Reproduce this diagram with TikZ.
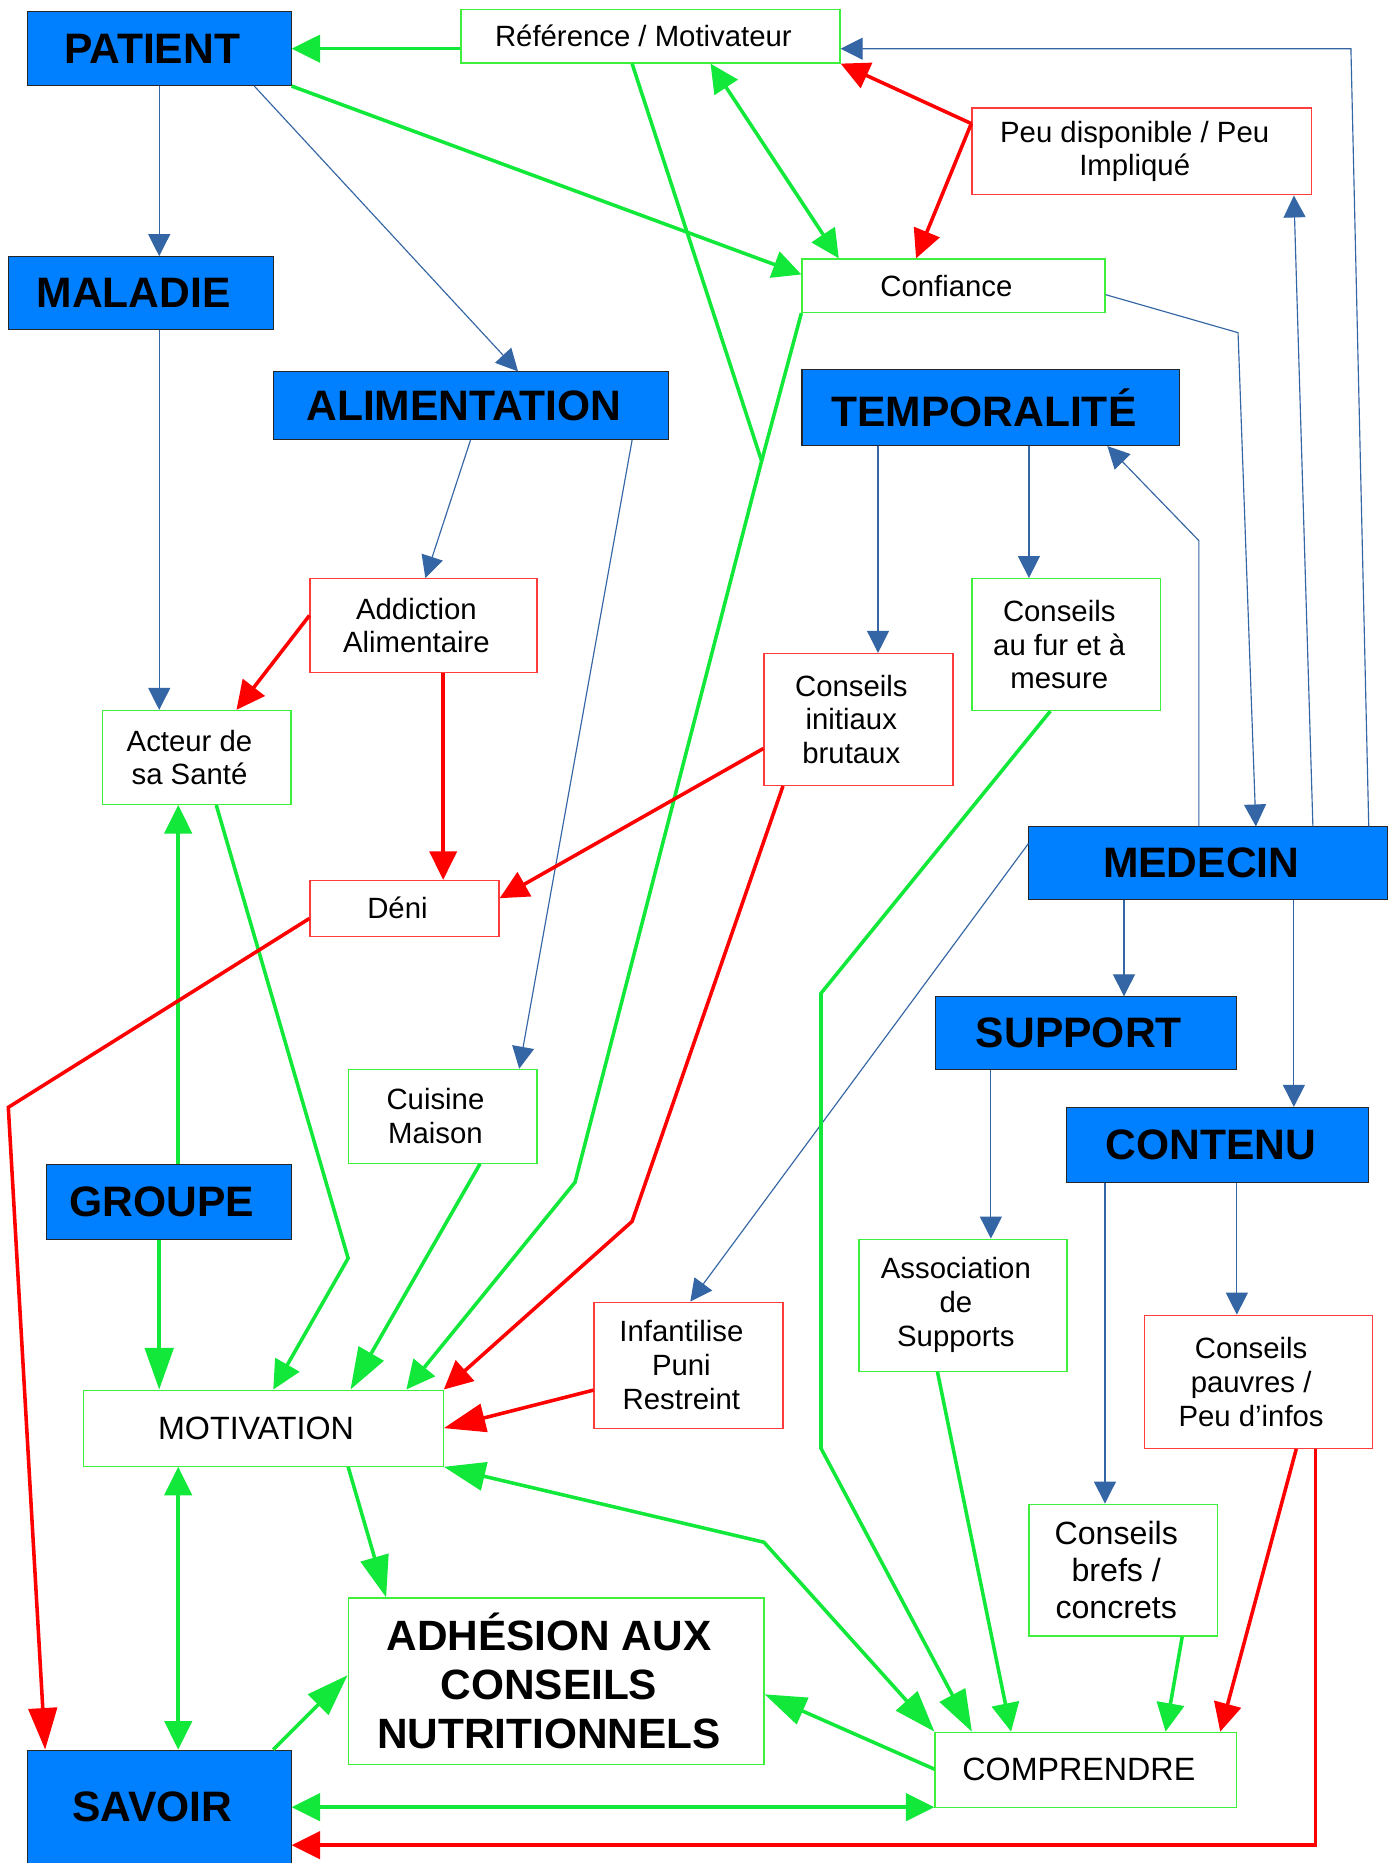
\documentclass[tikz,border=0pt]{standalone}
\usepackage{fontspec}
\setmainfont{Liberation Sans}
\usetikzlibrary{arrows.meta}
\definecolor{hdrblue}{RGB}{0,128,255}
\definecolor{lineblue}{RGB}{52,101,164}
\definecolor{linegreen}{RGB}{18,232,58}
\definecolor{boxgreen}{RGB}{60,240,60}
\definecolor{linered}{RGB}{255,0,0}
\definecolor{boxred}{RGB}{255,60,60}
\newcommand{\txtf}{\fontsize{14.05}{16.2}\selectfont}
\newcommand{\hdrf}{\fontsize{20.4}{23.5}\selectfont\bfseries}
\newcommand{\midf}{\fontsize{15.45}{17.8}\selectfont}
\newcommand{\brf}{\fontsize{15.4}{17.7}\selectfont}
\newcommand{\adhf}{\fontsize{20.3}{23.4}\selectfont\bfseries}
\newcommand{\lsh}{\hspace*{-0.24cm}}
\begin{document}
\begin{tikzpicture}[x=0.02cm,y=-0.02cm,
  sz/.style 2 args={minimum width=#1*0.02cm, minimum height=#2*0.02cm},
  shifted/.style={execute at begin node={\lsh}},
  hdr/.style={draw=black!85, line width=0.5pt, fill=hdrblue, font=\hdrf, text=black, inner sep=0pt, align=center, shifted},
  gbox/.style={draw=boxgreen, line width=0.6pt, fill=white, font=\txtf, text=black, inner sep=0pt, align=center, shifted},
  rbox/.style={draw=boxred, line width=0.6pt, fill=white, font=\txtf, text=black, inner sep=0pt, align=center, shifted},
  lnB/.style={draw=lineblue, line width=0.55pt, -{Triangle[length=0.37cm,width=0.37cm]}},
  lnG/.style={draw=linegreen, line width=1.7pt},
  lnR/.style={draw=linered, line width=1.7pt},
  tipS/.style={-{Triangle[length=0.48cm,width=0.46cm]}},
  tipL/.style={-{Triangle[length=0.70cm,width=0.48cm]}},
  bothS/.style={{Triangle[length=0.48cm,width=0.46cm]}-{Triangle[length=0.48cm,width=0.46cm]}},
  bothL/.style={{Triangle[length=0.70cm,width=0.48cm]}-{Triangle[length=0.70cm,width=0.48cm]}}
]
\useasboundingbox (0,0) rectangle (1176,1568);
\fill[white] (0,0) rectangle (1176,1568);
\clip (0,0) rectangle (1176,1568);

% nodes
\node[hdr, sz={222}{62}] (patient) at (134,41) {PATIENT};
\node[gbox, sz={319}{45}] (reference) at (547.5,30.5) {Référence / Motivateur};
\node[rbox, sz={286}{73}] (peu) at (961,127.5) {Peu disponible / Peu\\Impliqué};
\node[hdr, sz={223}{61}] (maladie) at (118.5,246.5) {MALADIE};
\node[gbox, sz={255}{45}] (confiance) at (802.5,240.5) {Confiance};
\node[hdr, sz={333}{57}] (alim) at (396.5,341.5) {ALIMENTATION};
\node[hdr, sz={318}{64}] (temporalite) at (834,343) {TEMPORALITÉ};
\node[rbox, sz={191}{79}] (addiction) at (356.5,526.5) {Addiction\\Alimentaire};
\node[gbox, sz={159}{111}] (fur) at (897.5,542.5) {Conseils\\au fur et à\\mesure};
\node[rbox, sz={159}{111}] (initiaux) at (722.5,605.5) {Conseils\\initiaux\\brutaux};
\node[gbox, sz={159}{79}] (acteur) at (165.5,637.5) {Acteur de\\sa Santé};
\node[hdr, sz={302}{61}] (medecin) at (1017,726.5) {MEDECIN};
\node[rbox, sz={159}{47}] (deni) at (340.5,764.5) {Déni};
\node[hdr, sz={254}{61}] (support) at (914,869.5) {SUPPORT};
\node[gbox, sz={159}{79}] (cuisine) at (372.5,939.5) {Cuisine\\Maison};
\node[hdr, sz={254}{63}] (contenu) at (1025,963.5) {CONTENU};
\node[hdr, sz={206}{63}] (groupe) at (142,1011.5) {GROUPE};
\node[rbox, sz={159}{106}] (infantilise) at (579.5,1149) {Infantilise\\Puni\\Restreint};
\node[gbox, sz={175}{111}] (association) at (810.5,1098.5) {Association\\de\\Supports};
\node[rbox, sz={192}{112}] (pauvres) at (1059,1163) {Conseils\\pauvres /\\Peu d’infos};
\node[gbox, font=\midf, sz={303}{64}] (motivation) at (221.5,1202) {MOTIVATION};
\node[gbox, font=\brf, sz={159}{111}] (brefs) at (945.5,1321.5) {Conseils\\brefs /\\concrets};
\node[gbox, font=\adhf, sz={350}{140}] (adhesion) at (468,1415) {ADHÉSION AUX\\CONSEILS\\NUTRITIONNELS};
\node[hdr, sz={222}{96}] (savoir) at (134,1521) {SAVOIR};
\node[gbox, font=\midf, sz={254}{63}] (comprendre) at (914,1489.5) {COMPRENDRE};

% blue connectors
\draw[lnB] (patient.south -| 134,0) -- (maladie.north -| 134,0);
\draw[lnB] (patient.south -| 214,0) -- (alim.north -| 436,0);
\draw[lnB] (maladie.south -| 134,0) -- (acteur.north -| 134,0);
\draw[lnB] (alim.south -| 396,0) -- (addiction.north -| 358,0);
\draw[lnB] (alim.south -| 532,0) -- (cuisine.north -| 437,0);
\draw[lnB] (temporalite.south -| 739,0) -- (initiaux.north -| 739,0);
\draw[lnB] (temporalite.south -| 866,0) -- (fur.north -| 866,0);
\draw[lnB] (medecin.north -| 1009,0) -- (1009,455) -- (temporalite.south -| 932,0);
\draw[lnB] (confiance.east |- 0,248) -- (1042,280) -- (medecin.north -| 1057,0);
\draw[lnB] (medecin.north -| 1105,0) -- (peu.south -| 1089,0);
\draw[lnB] (medecin.north -| 1152,0) -- (1137,41) -- (reference.east |- 0,41);
\draw[lnB] (medecin.west |- 0,710) -- (infantilise.north -| 581,0);
\draw[lnB] (medecin.south -| 946,0) -- (support.north -| 946,0);
\draw[lnB] (medecin.south -| 1089,0) -- (contenu.north -| 1089,0);
\draw[lnB] (support.south -| 834,0) -- (association.north -| 834,0);
\draw[lnB] (contenu.south -| 930,0) -- (brefs.north -| 930,0);
\draw[lnB] (contenu.south -| 1041,0) -- (pauvres.north -| 1041,0);

% green connectors
\draw[lnG,tipS] (reference.west |- 0,41) -- (patient.east |- 0,41);
\draw[lnG,tipS] (patient.south east) -- (confiance.west |- 0,231);
\draw[lnG,bothS] (reference.south -| 598,0) -- (confiance.north -| 706,0);
\draw[lnG,tipS] (reference.south -| 532,0) -- (641,388) -- (484,995) -- (motivation.north -| 342,0);
\draw[lnG] (confiance.south west) -- (641,388);
\draw[lnG,tipS] (acteur.south -| 182,0) -- (293,1059) -- (motivation.north -| 230,0);
\draw[lnG,tipS] (groupe.north -| 150,0) -- (acteur.south -| 150,0);
\draw[lnG,tipL] (groupe.south -| 134,0) -- (motivation.north -| 134,0);
\draw[lnG,tipL] (cuisine.south -| 404,0) -- (motivation.north -| 295,0);
\draw[lnG,tipL] (fur.south -| 884,0) -- (691,836) -- (691,1219) -- (comprendre.north -| 818,0);
\draw[lnG,bothS] (motivation.south -| 150,0) -- (savoir.north -| 150,0);
\draw[lnG,tipL] (motivation.south -| 293,0) -- (adhesion.north -| 325,0);
\draw[lnG,bothL] (motivation.south east) -- (643,1298) -- (comprendre.north west);
\draw[lnG,tipL] (savoir.north -| 230,0) -- (adhesion.west |- 0,1410);
\draw[lnG,tipL] (comprendre.west |- 0,1489) -- (adhesion.east |- 0,1426);
\draw[lnG,bothS] (savoir.east |- 0,1521) -- (comprendre.west |- 0,1521);
\draw[lnG,tipS] (association.south -| 789,0) -- (comprendre.north -| 851,0);
\draw[lnG,tipS] (brefs.south -| 995,0) -- (comprendre.north -| 981,0);

% red connectors
\draw[lnR,tipS] (peu.west |- 0,104) -- (reference.south east);
\draw[lnR,tipS] (peu.west |- 0,104) -- (confiance.north -| 771,0);
\draw[lnR,tipS] (addiction.west |- 0,518) -- (acteur.north -| 199,0);
\draw[lnR,tipS] (addiction.south -| 373,0) -- (deni.north -| 373,0);
\draw[lnR,tipS] (initiaux.west |- 0,630) -- (deni.east |- 0,756);
\draw[lnR,tipS] (initiaux.south -| 659,0) -- (532,1028) -- (motivation.north east);
\draw[lnR,tipL] (deni.west |- 0,773) -- (7,932) -- (savoir.north -| 38,0);
\draw[lnR,tipL] (infantilise.west |- 0,1170) -- (motivation.east |- 0,1202);
\draw[lnR,tipS] (pauvres.south -| 1091,0) -- (comprendre.north -| 1027,0);
\draw[lnR,tipS] (pauvres.south -| 1107,0) -- (1107,1553) -- (savoir.east |- 0,1553);
\end{tikzpicture}
\end{document}
